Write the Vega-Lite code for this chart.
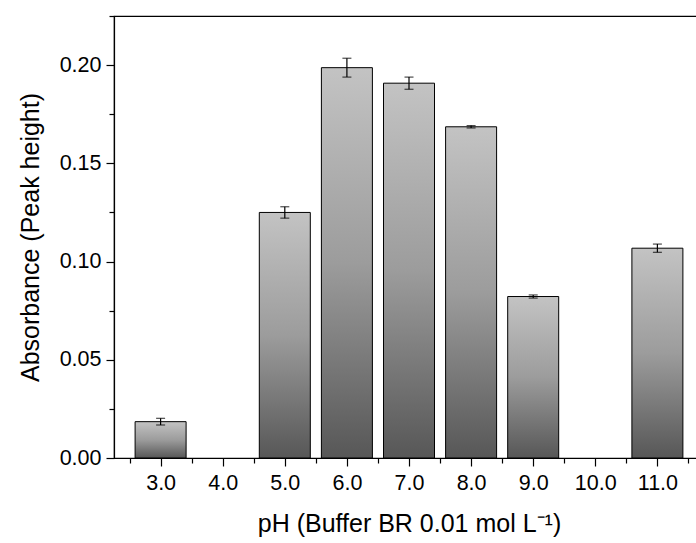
{
  "$schema": "https://vega.github.io/schema/vega-lite/v6.json",
  "width": 590,
  "height": 442,
  "autosize": {"type": "none"},
  "padding": {"left": 114, "top": 16, "right": 0, "bottom": 85},
  "background": "white",
  "config": {
    "font": "Liberation Sans",
    "view": {"stroke": "black", "strokeWidth": 1.2},
    "axis": {
      "domainColor": "black",
      "domainWidth": 1.2,
      "tickColor": "black",
      "tickWidth": 1.2,
      "labelColor": "black",
      "titleColor": "black",
      "labelFont": "Liberation Sans",
      "titleFont": "Liberation Sans",
      "labelFontSize": 21.5,
      "titleFontSize": 25,
      "titleFontWeight": "normal",
      "grid": false
    }
  },
  "data": {
    "values": [
      {"pH": 3, "abs": 0.0185, "err": 0.0017},
      {"pH": 5, "abs": 0.125, "err": 0.0029},
      {"pH": 6, "abs": 0.1987, "err": 0.0048},
      {"pH": 7, "abs": 0.1908, "err": 0.0031},
      {"pH": 8, "abs": 0.1686, "err": 0.0006},
      {"pH": 9, "abs": 0.0822, "err": 0.0008},
      {"pH": 11, "abs": 0.1068, "err": 0.0021}
    ]
  },
  "encoding": {
    "x": {
      "field": "pH",
      "type": "quantitative",
      "scale": {"domain": [2.33, 11.67], "nice": false, "zero": false},
      "axis": {
        "title": "pH (Buffer BR 0.01 mol L⁻¹)",
        "values": [2.5, 3, 3.5, 4, 4.5, 5, 5.5, 6, 6.5, 7, 7.5, 8, 8.5, 9, 9.5, 10, 10.5, 11, 11.5],
        "labelExpr": "round(datum.value*2)%2==0 ? format(datum.value,'.1f') : ''",
        "tickSize": {"condition": {"test": "round(datum.value*2)%2==1", "value": 5}, "value": 8},
        "labelPadding": 6,
        "titlePadding": 18,
        "labelFlush": false,
        "labelOverlap": false
      }
    },
    "y": {
      "field": "abs",
      "type": "quantitative",
      "scale": {"domain": [0, 0.225], "nice": false},
      "axis": {
        "title": "Absorbance (Peak height)",
        "values": [0, 0.025, 0.05, 0.075, 0.1, 0.125, 0.15, 0.175, 0.2, 0.225],
        "labelExpr": "round(datum.value*40)%2==0 ? format(datum.value,'.2f') : ''",
        "tickSize": {"condition": {"test": "round(datum.value*40)%2==1", "value": 5}, "value": 8},
        "labelPadding": 5,
        "titlePadding": 16,
        "labelFlush": false,
        "labelOverlap": false
      }
    }
  },
  "layer": [
    {
      "mark": {
        "type": "bar",
        "width": 51,
        "stroke": "black",
        "strokeWidth": 1,
        "fill": {
          "gradient": "linear",
          "x1": 0, "y1": 0, "x2": 0, "y2": 1,
          "stops": [
            {"offset": 0, "color": "#c3c3c3"},
            {"offset": 0.5, "color": "#9c9c9c"},
            {"offset": 1, "color": "#575757"}
          ]
        }
      }
    },
    {
      "mark": {"type": "errorbar", "ticks": {"size": 9}, "color": "black", "thickness": 1.2},
      "encoding": {"yError": {"field": "err"}}
    }
  ]
}
